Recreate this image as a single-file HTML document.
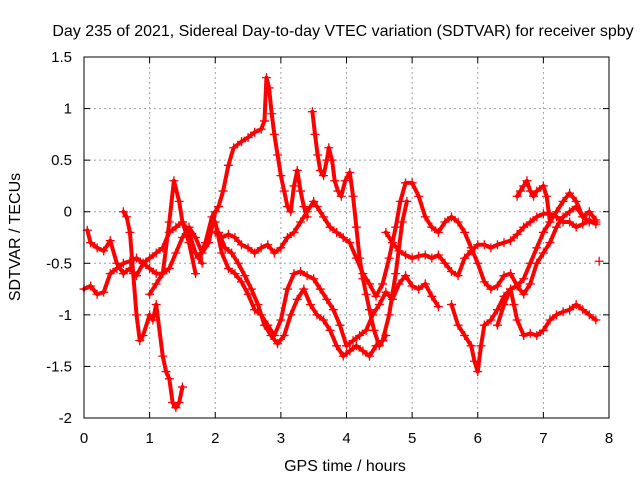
<!DOCTYPE html>
<html><head><meta charset="utf-8"><style>
body{margin:0;background:#fff;width:640px;height:480px;overflow:hidden}
svg{font-family:"Liberation Sans",sans-serif}
</style></head><body>
<svg id="chart" width="640" height="480">
<text x="343" y="36" font-size="16" text-anchor="middle">Day 235 of 2021, Sidereal Day-to-day VTEC variation (SDTVAR) for receiver spby</text>
<text x="345" y="471" font-size="16" text-anchor="middle">GPS time / hours</text>
<text transform="translate(20,237) rotate(-90)" font-size="16" text-anchor="middle">SDTVAR / TECUs</text>
<g id="grid"></g><g id="marks"></g><g id="axes"></g>
</svg>
<script>
const xTicks=[0,1,2,3,4,5,6,7,8];
const yTicks=[-2,-1.5,-1,-0.5,0,0.5,1,1.5];
const yTickLabels=["-2","-1.5","-1","-0.5","0","0.5","1","1.5"];
const s1=[[0,-0.75],[0.1,-0.72],[0.2,-0.8],[0.3,-0.78],[0.4,-0.6],[0.5,-0.55],[0.6,-0.5],[0.7,-0.48],[0.8,-0.45],[0.9,-0.5],[1.0,-0.55],[1.1,-0.6],[1.2,-0.6],[1.3,-0.55],[1.4,-0.4],[1.5,-0.25],[1.6,-0.15],[1.7,-0.25],[1.8,-0.4],[1.9,-0.3],[2.0,0]];
const s2=[[0.05,-0.18],[0.1,-0.3],[0.2,-0.35],[0.3,-0.38],[0.4,-0.28],[0.5,-0.5],[0.6,-0.6],[0.7,-0.55],[0.8,-0.62],[0.9,-0.5],[1.0,-0.45],[1.1,-0.4],[1.2,-0.35],[1.3,-0.2],[1.4,-0.15],[1.5,-0.1],[1.6,-0.2],[1.7,-0.4],[1.8,-0.5]];
const s3=[[0.6,0],[0.65,-0.05],[0.7,-0.2],[0.75,-0.6],[0.8,-1.0],[0.85,-1.25],[0.9,-1.2],[1.0,-1.0],[1.05,-1.05],[1.1,-0.9],[1.2,-1.4],[1.25,-1.55],[1.3,-1.62],[1.35,-1.85],[1.4,-1.9],[1.45,-1.85],[1.5,-1.7]];
const s4=[[1.0,-0.8],[1.1,-0.7],[1.2,-0.6],[1.3,-0.1],[1.37,0.3],[1.45,0.1],[1.5,-0.1],[1.6,-0.3],[1.7,-0.6]];
const sA=[[1.75,-0.45],[1.85,-0.3],[1.95,-0.05],[2.05,0.05],[2.12,0.2],[2.2,0.45],[2.28,0.62],[2.4,0.68],[2.5,0.72],[2.6,0.77],[2.7,0.8],[2.75,0.88],[2.78,1.3],[2.82,1.2],[2.86,0.95],[2.9,0.75],[2.95,0.55],[3.0,0.35],[3.05,0.2],[3.1,0.05],[3.15,0.0],[3.2,0.25],[3.25,0.4],[3.3,0.2],[3.35,0.05],[3.4,-0.05]];
const sA2=[[3.48,0.97],[3.52,0.75],[3.56,0.55],[3.6,0.4],[3.65,0.35],[3.7,0.5],[3.73,0.62],[3.78,0.5],[3.82,0.3],[3.87,0.2],[3.92,0.15],[3.98,0.3],[4.05,0.38],[4.1,0.15],[4.15,-0.15],[4.2,-0.45],[4.25,-0.65],[4.3,-0.8],[4.35,-0.95],[4.42,-1.15],[4.5,-1.3],[4.55,-1.25],[4.6,-1.2]];
const sB=[[2.0,-0.2],[2.1,-0.25],[2.2,-0.22],[2.3,-0.25],[2.4,-0.32],[2.5,-0.35],[2.6,-0.4],[2.7,-0.35],[2.8,-0.32],[2.9,-0.4],[3.0,-0.35],[3.1,-0.25],[3.2,-0.2],[3.3,-0.1],[3.4,0.0],[3.5,0.1],[3.55,0.05],[3.65,-0.05],[3.75,-0.15],[3.85,-0.2],[3.95,-0.25],[4.05,-0.3],[4.15,-0.45],[4.25,-0.6],[4.35,-0.7],[4.45,-0.82],[4.55,-0.7],[4.65,-0.45],[4.75,-0.15],[4.82,0.1],[4.9,0.28],[5.0,0.28],[5.1,0.15],[5.2,-0.05],[5.3,-0.15],[5.4,-0.2],[5.5,-0.1],[5.6,-0.05],[5.7,-0.1],[5.8,-0.2],[5.9,-0.35],[6.0,-0.5],[6.1,-0.68],[6.2,-0.75],[6.3,-0.72],[6.4,-0.62],[6.5,-0.6],[6.6,-0.72],[6.7,-0.65],[6.8,-0.5],[6.9,-0.35],[7.0,-0.2],[7.1,-0.1],[7.2,0.0],[7.3,0.1],[7.4,0.18],[7.5,0.1],[7.6,-0.05],[7.7,-0.1],[7.8,-0.1]];
const sC=[[4.6,-0.2],[4.7,-0.3],[4.8,-0.38],[4.9,-0.42],[5.0,-0.45],[5.1,-0.43],[5.2,-0.42],[5.3,-0.45],[5.4,-0.42],[5.5,-0.5],[5.6,-0.58],[5.7,-0.62],[5.8,-0.45],[5.9,-0.38],[6.0,-0.32],[6.1,-0.32],[6.2,-0.35],[6.3,-0.32],[6.4,-0.3],[6.5,-0.28],[6.6,-0.22],[6.7,-0.15],[6.8,-0.1],[6.9,-0.05],[7.0,-0.02],[7.1,-0.02],[7.2,-0.05],[7.3,-0.1],[7.4,-0.1],[7.5,-0.15],[7.6,-0.12],[7.7,-0.08],[7.8,-0.12]];
const sD=[[2.0,-0.1],[2.1,-0.4],[2.2,-0.55],[2.3,-0.6],[2.4,-0.68],[2.5,-0.8],[2.6,-0.95],[2.7,-1.0],[2.8,-1.1],[2.9,-1.2],[3.0,-1.05],[3.1,-0.75],[3.2,-0.6],[3.3,-0.58],[3.4,-0.62],[3.5,-0.65],[3.6,-0.75],[3.7,-0.85],[3.8,-0.95],[3.9,-1.1],[4.0,-1.3],[4.1,-1.25],[4.2,-1.2],[4.3,-1.15],[4.4,-1.0],[4.5,-0.9],[4.6,-0.78],[4.7,-0.85],[4.8,-0.7],[4.9,-0.62],[5.0,-0.72],[5.1,-0.75],[5.2,-0.7],[5.3,-0.82],[5.4,-0.92]];
const sE=[[2.05,-0.2],[2.15,-0.35],[2.25,-0.4],[2.35,-0.5],[2.45,-0.62],[2.55,-0.75],[2.65,-0.9],[2.75,-1.1],[2.85,-1.2],[2.95,-1.28],[3.05,-1.2],[3.15,-1.0],[3.25,-0.85],[3.35,-0.75],[3.45,-0.9],[3.55,-1.0],[3.65,-1.05],[3.75,-1.15],[3.85,-1.3],[3.95,-1.4],[4.05,-1.35],[4.15,-1.3],[4.25,-1.35],[4.35,-1.4],[4.45,-1.3],[4.55,-1.25],[4.65,-1.0],[4.75,-0.6],[4.85,-0.1],[4.92,0.1]];
const sF=[[5.6,-0.9],[5.7,-1.1],[5.8,-1.2],[5.9,-1.3],[5.95,-1.45],[6.0,-1.55],[6.05,-1.3],[6.1,-1.1],[6.2,-1.05],[6.3,-0.95],[6.4,-0.82],[6.5,-0.75],[6.55,-0.9],[6.6,-1.05],[6.7,-1.2],[6.8,-1.18],[6.9,-1.2],[7.0,-1.15],[7.1,-1.05],[7.2,-1.0],[7.3,-0.97],[7.4,-0.95],[7.5,-0.9],[7.6,-0.95],[7.7,-1.0],[7.8,-1.05]];
const sG=[[6.6,0.15],[6.65,0.2],[6.7,0.25],[6.75,0.3],[6.8,0.2],[6.85,0.15],[6.9,0.2],[7.0,0.25],[7.05,0.15],[7.1,-0.1]];
const sH=[[6.3,-1.1],[6.4,-0.9],[6.5,-0.75],[6.6,-0.72],[6.7,-0.8],[6.8,-0.7],[6.9,-0.5],[7.0,-0.4],[7.1,-0.3],[7.2,-0.15],[7.3,-0.05],[7.4,0.0],[7.5,0.05],[7.6,-0.05],[7.7,0.0],[7.8,-0.08]];
const sI=[[7.85,-0.48]];
const series=[s1,s2,s3,s4,sA,sA2,sB,sC,sD,sE,sF,sG,sH,sI];
const X0=84,X1=609,Y0=418,Y1=57,xMin=0,xMax=8,yMin=-2,yMax=1.5;
const xs=v=>X0+(v-xMin)/(xMax-xMin)*(X1-X0);
const ys=v=>Y0-(v-yMin)/(yMax-yMin)*(Y0-Y1);
const NS="http://www.w3.org/2000/svg";
function mk(t,a,p){const e=document.createElementNS(NS,t);for(const k in a)e.setAttribute(k,a[k]);p.appendChild(e);return e;}
const grid=document.getElementById('grid'),axes=document.getElementById('axes'),marks=document.getElementById('marks');
xTicks.forEach(v=>{const x=xs(v);
 if(v>xMin&&v<xMax){const g=mk('line',{x1:x,x2:x,y1:Y1,y2:Y0,stroke:'#a0a0a0','stroke-dasharray':'2,3'},grid);}
 mk('line',{x1:x,x2:x,y1:Y0,y2:Y0-6,stroke:'#000'},axes);mk('line',{x1:x,x2:x,y1:Y1,y2:Y1+6,stroke:'#000'},axes);
 const t=mk('text',{x:x,y:443,'font-size':15,'text-anchor':'middle'},axes);t.textContent=v;
 
 });
yTicks.forEach((v,i)=>{const y=ys(v);
 if(v>yMin&&v<yMax){const g=mk('line',{x1:X0,x2:X1,y1:y,y2:y,stroke:'#a0a0a0','stroke-dasharray':'2,3'},grid);}
 mk('line',{x1:X0,x2:X0+6,y1:y,y2:y,stroke:'#000'},axes);mk('line',{x1:X1,x2:X1-6,y1:y,y2:y,stroke:'#000'},axes);
 const t=mk('text',{x:72,y:y+5,'font-size':15,'text-anchor':'end'},axes);t.textContent=yTickLabels[i];
 
 });
const fr=mk('rect',{x:X0,y:Y1,width:X1-X0,height:Y0-Y1,fill:'none',stroke:'#000'},axes);


series.forEach((s,i)=>{
 const g=mk('g',{},marks);
 
 
 if(s.length>1){mk('polyline',{points:s.map(p=>xs(p[0])+','+ys(p[1])).join(' '),fill:'none',stroke:'#ff0000','stroke-width':4,'stroke-linejoin':'round','stroke-linecap':'round'},g);}
 s.forEach(p=>{const x=xs(p[0]),y=ys(p[1]);
  const m=mk('path',{d:`M${x-4.5},${y}H${x+4.5}M${x},${y-4.5}V${y+4.5}`,stroke:'#ff0000','stroke-width':1.3},g);
  
  });
});
</script>
</body></html>
